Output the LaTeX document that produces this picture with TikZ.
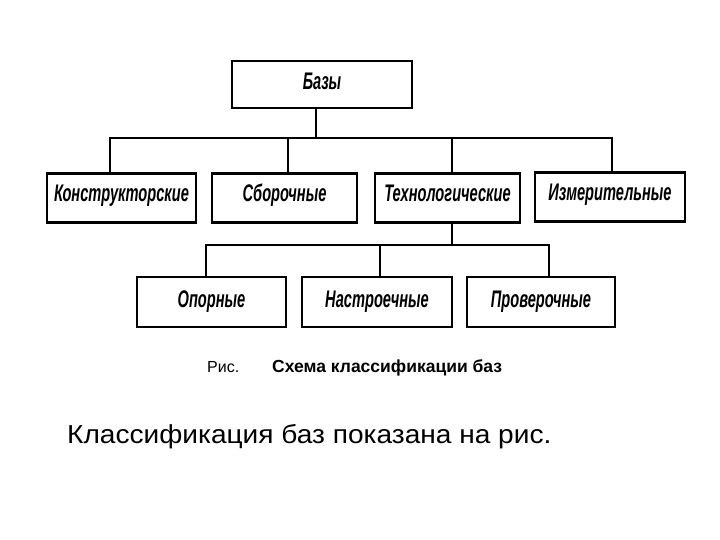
\documentclass[tikz,border=0pt]{standalone}
\usepackage{fontspec}
\setmainfont{Liberation Sans}
\newfontfamily\boxfont[FakeStretch=0.61]{Liberation Sans}
\newfontfamily\widefont[FakeStretch=1.08]{Liberation Sans}
\tikzset{
  bx/.style={draw=black, line width=2.6pt, minimum height=49pt, inner sep=0pt, text height=17pt, text depth=10pt, font=\boxfont\bfseries\itshape\fontsize{24}{27}\selectfont},
  lowbx/.style={bx, minimum height=50pt, text depth=7pt},
  conn/.style={draw=black, line width=1.6pt},
}
\begin{document}
\begin{tikzpicture}[x=1pt,y=-1pt]
\useasboundingbox[fill=white] (0,0) rectangle (720,540);
\node[bx, minimum width=180pt, minimum height=47pt, text depth=6pt] (baza) at (322,84.5) {Базы};
\node[bx, minimum width=149pt] (k) at (121.5,198) {Конструкторские};
\node[bx, minimum width=145pt] (s) at (284.5,198) {Сборочные};
\node[bx, minimum width=145pt] (t) at (447.5,198) {Технологические};
\node[bx, minimum width=150pt] (i) at (610,197) {Измерительные};
\node[lowbx, minimum width=149pt] (o) at (211.5,302) {Опорные};
\node[lowbx, minimum width=150pt] (n) at (377,302) {Настроечные};
\node[lowbx, minimum width=148pt] (p) at (541,302) {Проверочные};
\coordinate (bar1) at (0,138);
\coordinate (bar2) at (0,245);
\draw[conn] ([xshift=-6pt]baza.south) -- ([xshift=-6pt]baza.south |- bar1);
\draw[conn] ([xshift=-11.5pt]k.north) -- ([xshift=-11.5pt]k.north |- bar1) -- ([xshift=2pt]i.north |- bar1) -- ([xshift=2pt]i.north);
\draw[conn] ([xshift=3.5pt]s.north) -- ([xshift=3.5pt]s.north |- bar1);
\draw[conn] ([xshift=4.5pt]t.north) -- ([xshift=4.5pt]t.north |- bar1);
\draw[conn] ([xshift=4.5pt]t.south) -- ([xshift=4.5pt]t.south |- bar2);
\draw[conn] ([xshift=-5.5pt]o.north) -- ([xshift=-5.5pt]o.north |- bar2) -- ([xshift=8pt]p.north |- bar2) -- ([xshift=8pt]p.north);
\draw[conn] ([xshift=3pt]n.north) -- ([xshift=3pt]n.north |- bar2);
\node[anchor=base west, font=\fontsize{16}{18}\selectfont, inner sep=0pt] (ris) at (207,372) {Рис.};
\node[anchor=base west, font=\bfseries\fontsize{17.5}{19}\selectfont, inner sep=0pt] (cap) at (272,372) {Схема классификации баз};
\node[anchor=base west, font=\widefont\fontsize{26}{30}\selectfont, inner sep=0pt] (txt) at (67,443) {Классификация баз показана на рис.};
\end{tikzpicture}
\end{document}
